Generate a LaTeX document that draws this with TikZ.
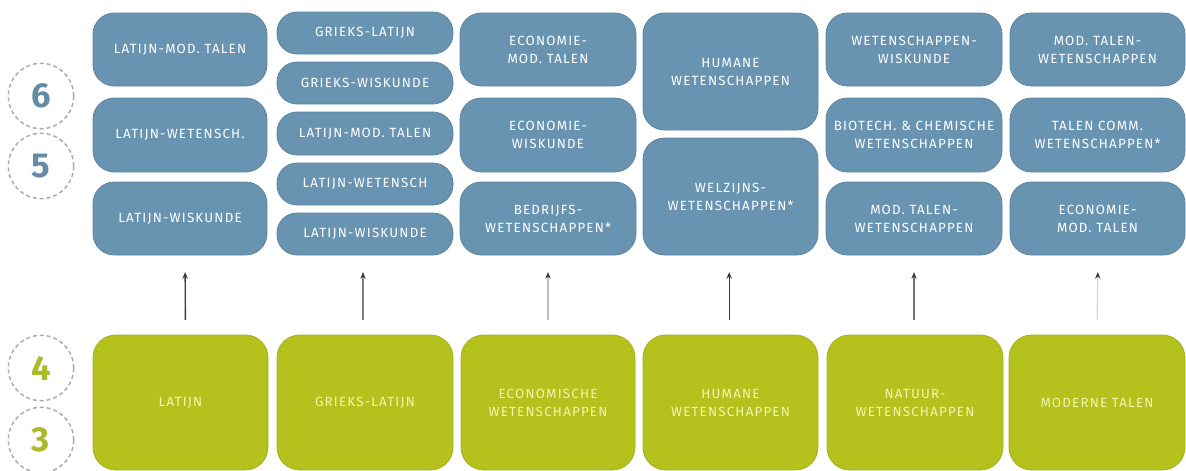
\documentclass[tikz,border=0pt]{standalone}
\usepackage{fontspec}
\setmainfont{Fira Sans}
\usetikzlibrary{arrows.meta}
\definecolor{boxblue}{RGB}{104,148,178}
\definecolor{boxblueline}{RGB}{92,132,160}
\definecolor{boxgreen}{RGB}{181,193,28}
\definecolor{boxgreenline}{RGB}{165,176,30}
\definecolor{greentext}{RGB}{242,245,176}
\definecolor{numblue}{RGB}{100,140,165}
\definecolor{numgreen}{RGB}{172,186,40}
\definecolor{circgrey}{RGB}{170,170,170}
\definecolor{arrdark}{RGB}{50,60,70}
\tikzset{
  base/.style={rectangle, inner sep=0pt, align=center, line width=0.6pt,
    font=\fontsize{10}{13.5}\selectfont\addfontfeatures{LetterSpace=9}},
  bluebox/.style={base, fill=boxblue, draw=boxblueline, text=white, rounded corners=16pt},
  greenbox/.style={base, fill=boxgreen, draw=boxgreenline, text=greentext, rounded corners=17pt},
  sz/.style 2 args={minimum width={#1*0.75pt}, minimum height={#2*0.75pt}},
  numcirc/.style={circle, draw=circgrey, dash pattern=on 3pt off 2.2pt, line width=1.1pt,
    minimum size=49pt, inner sep=0pt, font=\fontsize{26}{26}\selectfont\bfseries},
  uparrow/.style={line width=1pt, -{Stealth[length=5pt,width=4pt,color=arrdark]},
    shorten <=11pt, shorten >=12.5pt}
}
\begin{document}
\begin{tikzpicture}[x=0.75pt,y=-0.75pt]
\useasboundingbox (0,0) rectangle (1186,471);
% circles
\node[numcirc, text=numblue] (c6) at (41,96) {6};
\node[numcirc, text=numblue] (c5) at (41,166) {5};
\node[numcirc, text=numgreen] (c4) at (41,368) {4};
\node[numcirc, text=numgreen] (c3) at (41,440) {3};
% column 1
\node[bluebox, sz={174}{73}] (a1) at (180,49.5) {LATIJN-MOD. TALEN};
\node[bluebox, sz={174}{74}] (a2) at (180,135) {LATIJN-WETENSCH.};
\node[bluebox, sz={174}{73}] (a3) at (180,218.5) {LATIJN-WISKUNDE};
% column 2
\node[bluebox, sz={176}{42}, rounded corners=15pt] (b1) at (365,33) {GRIEKS-LATIJN};
\node[bluebox, sz={176}{42}, rounded corners=15pt] (b2) at (365,83) {GRIEKS-WISKUNDE};
\node[bluebox, sz={176}{43}, rounded corners=15pt] (b3) at (365,133.5) {LATIJN-MOD. TALEN};
\node[bluebox, sz={176}{42}, rounded corners=15pt] (b4) at (365,184) {LATIJN-WETENSCH};
\node[bluebox, sz={176}{42}, rounded corners=15pt] (b5) at (365,234) {LATIJN-WISKUNDE};
% column 3
\node[bluebox, sz={176}{73}] (d1) at (548,49.5) {ECONOMIE-\\MOD. TALEN};
\node[bluebox, sz={176}{74}] (d2) at (548,135) {ECONOMIE-\\WISKUNDE};
\node[bluebox, sz={176}{73}] (d3) at (548,218.5) {BEDRIJFS-\\WETENSCHAPPEN*};
% column 4
\node[bluebox, sz={175}{117}] (e1) at (730.5,71.5) {HUMANE\\WETENSCHAPPEN};
\node[bluebox, sz={175}{117}] (e2) at (730.5,196.5) {WELZIJNS-\\WETENSCHAPPEN*};
% column 5
\node[bluebox, sz={176}{73}] (f1) at (914,49.5) {WETENSCHAPPEN-\\WISKUNDE};
\node[bluebox, sz={176}{74}] (f2) at (914,135) {BIOTECH. \& CHEMISCHE\\WETENSCHAPPEN};
\node[bluebox, sz={176}{73}] (f3) at (914,218.5) {MOD. TALEN-\\WETENSCHAPPEN};
% column 6
\node[bluebox, sz={175}{73}] (h1) at (1097.5,49.5) {MOD. TALEN-\\WETENSCHAPPEN};
\node[bluebox, sz={175}{74}] (h2) at (1097.5,135) {TALEN COMM.\\WETENSCHAPPEN*};
\node[bluebox, sz={175}{73}] (h3) at (1097.5,218.5) {ECONOMIE-\\MOD. TALEN};
% green row
\node[greenbox, sz={175}{135}] (g1) at (180.5,402.5) {LATIJN};
\node[greenbox, sz={176}{135}] (g2) at (365,402.5) {GRIEKS-LATIJN};
\node[greenbox, sz={174}{135}] (g3) at (548,402.5) {ECONOMISCHE\\WETENSCHAPPEN};
\node[greenbox, sz={175}{135}] (g4) at (730.5,402.5) {HUMANE\\WETENSCHAPPEN};
\node[greenbox, sz={176}{135}] (g5) at (915,402.5) {NATUUR-\\WETENSCHAPPEN};
\node[greenbox, sz={176}{135}] (g6) at (1097,402.5) {MODERNE TALEN};
% arrows
\draw[uparrow, draw=arrdark] ([xshift=3.75pt]g1.north) -- ([xshift=3.75pt]a3.south);
\draw[uparrow, draw=gray] ([xshift=-1.5pt]g2.north) -- ([xshift=-1.5pt]b5.south);
\draw[uparrow, draw=black!25] (g3.north) -- (d3.south);
\draw[uparrow, draw=arrdark] ([xshift=-1pt]g4.north) -- ([xshift=-1pt]e2.south);
\draw[uparrow, draw=black!55] ([xshift=-0.75pt]g5.north) -- (f3.south);
\draw[uparrow, draw=black!15] (g6.north) -- ([xshift=0.4pt]h3.south);
\end{tikzpicture}
\end{document}
